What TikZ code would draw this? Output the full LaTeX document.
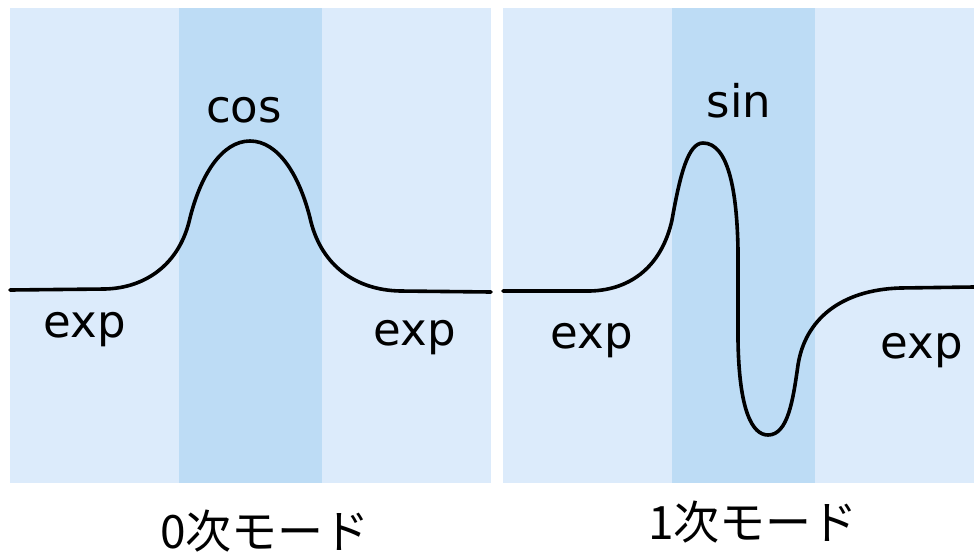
\documentclass[tikz,border=0pt]{standalone}
\usepackage{fontspec}
\setmainfont{DejaVu Sans}
\newfontfamily\jpfont{Noto Sans CJK JP}
\definecolor{lightband}{RGB}{220,235,251}
\definecolor{darkband}{RGB}{189,220,245}
\begin{document}
\begin{tikzpicture}[x=1pt,y=-1pt,
  lbl/.style={anchor=base,inner sep=0pt,font=\fontsize{45}{54}\selectfont},
  modecaption/.style={anchor=base,inner sep=0pt,font=\jpfont\fontsize{46}{55}\selectfont},
  wave/.style={line width=3.6pt,line join=round,line cap=round}]
\useasboundingbox (0,0) rectangle (974,552);
% panel backgrounds
\fill[lightband] (10,8) rectangle (491,483);
\fill[darkband] (179,8) rectangle (322,483);
\fill[lightband] (503,8) rectangle (974,483);
\fill[darkband] (672,8) rectangle (815,483);
% 0th mode
\draw[wave] (10,290) -- (105,289) .. controls (145,288) and (178,265) .. (189,222)
  .. controls (200,175) and (222,141) .. (250,141)
  .. controls (278,141) and (300,175) .. (311,222)
  .. controls (322,265) and (355,290) .. (400,291) -- (491,292);
% 1st mode
\draw[wave] (503,291) -- (590,291) .. controls (632,290) and (662,265) .. (672,220)
  .. controls (680,175) and (688,143) .. (703,143)
  .. controls (728,143) and (737,190) .. (738,250)
  -- (738,340)
  .. controls (739,410) and (752,435) .. (768,435)
  .. controls (788,435) and (793,400) .. (798,365)
  .. controls (805,320) and (840,290) .. (900,288) -- (974,287);
% labels
\node[lbl] (cos) at (244,122) {cos};
\node[lbl] (sin) at (739,117) {sin};
\node[lbl] (e1) at (85,337) {exp};
\node[lbl] (e2) at (415,345) {exp};
\node[lbl] (e3) at (592,348) {exp};
\node[lbl] (e4) at (922,358) {exp};
\node[modecaption] (m0) at (265,548) {0次モード};
\node[modecaption] (m1) at (753,539) {1次モード};
\end{tikzpicture}
\end{document}
